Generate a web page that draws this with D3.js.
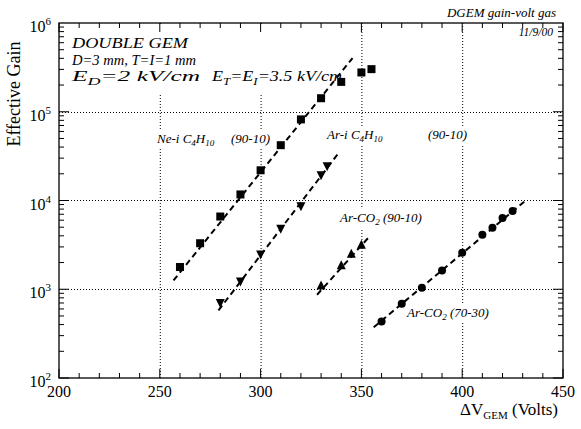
<!DOCTYPE html>
<html><head><meta charset="utf-8">
<script src="https://cdn.jsdelivr.net/npm/d3@7/dist/d3.min.js"></script>
<style>body{margin:0;background:#fff;font-family:'Liberation Serif',serif}svg{display:block}
svg text, svg tspan{font-family:'Liberation Serif',serif !important}</style>
</head><body><svg id="c" width="581" height="429"></svg>
<script>
// ---- data ----
const neV = [260,270,280,290,300,310,320,330,340,350,355];
const neG = [1780,3300,6600,11700,21900,42000,82000,142000,217000,277000,302000];
const ariV = [280,290,300,310,320,330,333];
const ariG = [700,1220,2470,4820,8600,19200,24300];
const co9V = [330,340,345,350];
const co9G = [1100,1860,2510,3180];
const co7V = [360,370,380,390,400,410,415,420,425];
const co7G = [434,685,1040,1630,2580,4120,4940,6350,7620];
// fit lines (end points)
const neFitV = [256.8,345.6], neFitG = [1256,402700];
const ariFitV = [279.1,339.1], ariFitG = [577,35240];
const co9FitV = [328,354.5], co9FitG = [867,4046];
const co7FitV = [356.1,431], co7FitG = [373,9795];
const xTicks = [200,250,300,350,400,450];
const yTicks = [1e2,1e3,1e4,1e5,1e6];
const xGrid = [250,300,350,400];
const yGrid = [1e3,1e4,1e5];

const FONT = "Liberation Serif";
const svg = d3.select("#c");
const L=59,R=563,T=23,B=378;
const x = d3.scaleLinear().domain([200,450]).range([L,R]);
const y = d3.scaleLog().domain([1e2,1e6]).range([B,T]);

// grid
const g = svg.append("g").attr("stroke","#000").attr("stroke-width",1).attr("stroke-dasharray","1,2");
xGrid.forEach(v=>g.append("line").attr("x1",x(v)+0.5).attr("x2",x(v)+0.5).attr("y1",T).attr("y2",B));
yGrid.forEach(v=>g.append("line").attr("x1",L).attr("x2",R).attr("y1",Math.round(y(v))+0.5).attr("y2",Math.round(y(v))+0.5));

function txt(parent){ return parent.append("text").attr("font-family",FONT).style("font-family",FONT,"important"); }

// helper: text with white box
function boxed(sel,pad){
  const b = sel.node().getBBox();
  sel.node().parentNode.insertBefore(
    d3.create("svg:rect").attr("x",b.x-pad).attr("y",b.y-pad).attr("width",b.width+2*pad).attr("height",b.height+2*pad).attr("fill","#fff").node(),
    sel.node());
}

// info block (white pave)
svg.append("rect").attr("x",66).attr("y",T+2).attr("width",280).attr("height",70).attr("fill","#fff");
const info = svg.append("g");
function infoLine(x0,y0,len,parts){
  const t = txt(info).attr("x",x0).attr("y",y0).attr("font-style","italic").attr("font-size",15.5)
    .attr("textLength",len).attr("lengthAdjust","spacingAndGlyphs");
  parts.forEach(p=>{
    const s=t.append("tspan").text(p[0]);
    if(p[1]==="sub") s.attr("dy",4).attr("font-size",11);
    if(p[1]==="up") s.attr("dy",-4);
  });
}
infoLine(72,48,116,[["DOUBLE GEM"]]);
infoLine(72,65,124,[["D=3 mm, T=I=1 mm"]]);
infoLine(72,81,128,[["E"],["D","sub"],["=2 kV/cm","up"]]);
infoLine(212,81,130,[["E"],["T","sub"],["=E","up"],["I","sub"],["=3.5 kV/cm","up"]]);

// curve labels
function label(x0,y0,parts){
  const t = txt(svg).attr("x",x0).attr("y",y0).attr("font-style","italic").attr("font-size",13);
  parts.forEach(p=>{
    const s=t.append("tspan").text(p[0]);
    if(p[1]==="sub") s.attr("dy",3).attr("font-size",9);
    if(p[1]==="up") s.attr("dy",-3);
    if(typeof p[2]==="number") s.attr("x",p[2]);
  });
  boxed(t,1);
}
label(157,143,[["Ne-i C"],["4","sub"],["H","up"],["10","sub"],["(90-10)","up",231]]);
label(327,139,[["Ar-i C"],["4","sub"],["H","up"],["10","sub"],["(90-10)","up",428]]);
label(340,222,[["Ar-CO"],["2","sub"],[" (90-10)","up"]]);
label(407,317,[["Ar-CO"],["2","sub"],[" (70-30)","up"]]);

// fit lines
function fit(V,G){
  svg.append("line").attr("x1",x(V[0])).attr("y1",y(G[0])).attr("x2",x(V[1])).attr("y2",y(G[1]))
    .attr("stroke","#000").attr("stroke-width",2).attr("stroke-dasharray","6,4");
}
fit(neFitV,neFitG); fit(ariFitV,ariFitG); fit(co9FitV,co9FitG); fit(co7FitV,co7FitG);

// markers
svg.append("g").selectAll("rect").data(neV).join("rect")
  .attr("x",(d)=>x(d)-4).attr("y",(d,i)=>y(neG[i])-4).attr("width",8).attr("height",8).attr("fill","#000");
svg.append("g").selectAll("path").data(ariV).join("path")
  .attr("transform",(d,i)=>`translate(${x(d)},${y(ariG[i])})`).attr("d","M-4.5,-4L4.5,-4L0,5Z").attr("fill","#000");
svg.append("g").selectAll("path").data(co9V).join("path")
  .attr("transform",(d,i)=>`translate(${x(d)},${y(co9G[i])})`).attr("d","M-4.5,4L4.5,4L0,-5Z").attr("fill","#000");
svg.append("g").selectAll("circle").data(co7V).join("circle")
  .attr("cx",d=>x(d)).attr("cy",(d,i)=>y(co7G[i])).attr("r",4).attr("fill","#000");

// frame & ticks
svg.append("rect").attr("x",L).attr("y",T).attr("width",R-L).attr("height",B-T).attr("fill","none").attr("stroke","#000").attr("stroke-width",1.3);
const tk = svg.append("g").attr("stroke","#000").attr("stroke-width",1);
for(let v=200; v<=450; v+=10){
  const len = (v%50===0)?9:5;
  tk.append("line").attr("x1",x(v)).attr("x2",x(v)).attr("y1",B).attr("y2",B-len);
  tk.append("line").attr("x1",x(v)).attr("x2",x(v)).attr("y1",T).attr("y2",T+len);
}
for(let e=2;e<6;e++){
  for(let m=1;m<10;m++){
    const v=m*Math.pow(10,e); const yy=y(v); const len=(m===1)?10:5;
    tk.append("line").attr("x1",L).attr("x2",L+len).attr("y1",yy).attr("y2",yy);
    tk.append("line").attr("x1",R).attr("x2",R-len).attr("y1",yy).attr("y2",yy);
  }
}

// tick labels
const xl = svg.append("g");
xTicks.forEach(v=>txt(xl).attr("font-size",16).attr("text-anchor","middle").attr("x",x(v)).attr("y",397).text(v));
const yl = svg.append("g");
yTicks.forEach(v=>{
  const t = txt(yl).attr("font-size",16).attr("text-anchor","end").attr("x",51).attr("y",y(v)+9);
  t.append("tspan").text("10");
  t.append("tspan").attr("dy",-7).attr("font-size",11).text(Math.round(Math.log10(v)));
});

// axis titles
txt(svg).attr("transform","translate(20,94) rotate(-90)").attr("text-anchor","middle").attr("font-size",18).text("Effective Gain");
const xt = txt(svg).attr("x",558).attr("y",415).attr("text-anchor","end").attr("font-size",17);
xt.append("tspan").text("ΔV");
xt.append("tspan").attr("dy",4).attr("font-size",11).text("GEM");
xt.append("tspan").attr("dy",-4).text(" (Volts)");

// header
txt(svg).attr("x",556).attr("y",17).attr("text-anchor","end").attr("font-style","italic").attr("font-size",13).text("DGEM gain-volt gas");
txt(svg).attr("x",553).attr("y",36).attr("text-anchor","end").attr("font-style","italic").attr("font-size",11.5).text("11/9/00");
</script></body></html>
